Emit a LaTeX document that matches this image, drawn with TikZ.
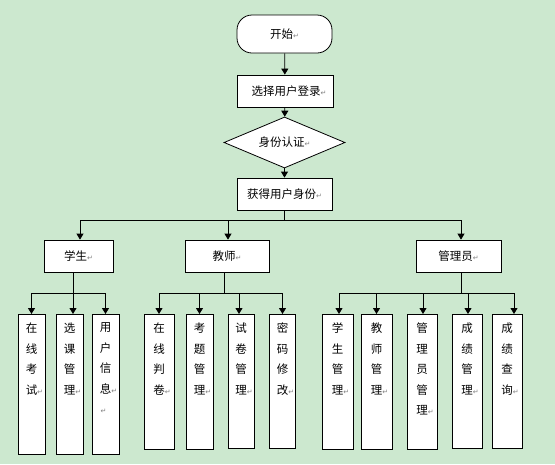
\documentclass[tikz,border=0pt]{standalone}
\usepackage{fontspec}
\setmainfont{Noto Sans CJK SC}
\newfontfamily\retfont{DejaVu Sans}
\usetikzlibrary{arrows.meta,shapes.geometric}
\definecolor{bggreen}{RGB}{204,232,207}
\newcommand{\ret}{{\retfont\color{gray}\fontsize{7}{7}\selectfont ↵}}
% vertical text, top aligned in a column box
\newcommand{\vtxt}[2]{\parbox[c][#1][t]{12pt}{\centering\fontsize{11.5}{20.5}\selectfont\vspace*{8.5pt}#2}}
\tikzset{
  box/.style={draw,line width=0.8pt,fill=white,inner sep=0pt,minimum height=32pt,font=\fontsize{11.5}{13}\selectfont},
  col/.style={draw,line width=0.8pt,fill=white,inner sep=0pt,anchor=north},
  arr/.style={line width=0.8pt,-{Triangle[length=6pt,width=7pt]}},
  ln/.style={line width=0.8pt}
}
\begin{document}
\begin{tikzpicture}[x=1pt,y=-1pt]
  \fill[bggreen] (0,0) rectangle (555,464);
  \useasboundingbox (0,0) rectangle (555,464);
  % main line
  \node[box,rounded corners=15pt,minimum width=95pt,minimum height=38pt] (start) at (284.5,34) {开始\ret};
  \node[box,minimum width=96pt] (login) at (285,91) {\hspace*{8pt}选择用户登录\ret};
  \node[box,diamond,aspect=2.4,minimum width=121pt,minimum height=51pt] (auth) at (284.5,142.5) {身份认证\ret};
  \node[box,minimum width=95pt] (get) at (284.5,194) {获得用户身份\ret};
  \draw[arr] (start) -- (login);
  \draw[arr] (login) -- (auth);
  \draw[arr] (auth) -- (get);
  % roles
  \node[box,minimum width=69pt] (stu) at (78.5,256) {学生\ret};
  \node[box,minimum width=84pt] (tea) at (227,256) {教师\ret};
  \node[box,minimum width=85pt] (adm) at (458.5,256) {管理员\ret};
  \coordinate (j0) at (284.5,220);
  \draw[ln] (get) -- (j0);
  \draw[arr] (j0) -| ([xshift=1.5pt]stu.north);
  \draw[arr] (j0) -| ([xshift=1pt]tea.north);
  \draw[arr] (j0) -| ([xshift=2.5pt]adm.north);
  % student
  \node[col,minimum width=27pt,minimum height=140pt] (s1) at (31.5,314) {\vtxt{140pt}{在\\线\\考\\试\rlap{\ret}}};
  \node[col,minimum width=27pt,minimum height=140pt] (s2) at (69.5,314) {\vtxt{140pt}{选\\课\\管\\理\rlap{\ret}}};
  \node[col,minimum width=27pt,minimum height=140pt] (s3) at (105.5,314) {\vtxt{140pt}{用\\户\\信\\息\rlap{\ret}\\\hspace*{-4pt}\ret}};
  \coordinate (js) at (73,293);
  \draw[ln] (stu.south -| js) -- (js);
  \draw[arr] (js) -| (s1);
  \draw[arr] (js) -- (s2.north -| js);
  \draw[arr] (js) -| (s3);
  % teacher
  \node[col,minimum width=30pt,minimum height=135pt] (t1) at (159,314) {\vtxt{135pt}{在\\线\\判\\卷\rlap{\ret}}};
  \node[col,minimum width=27pt,minimum height=135pt] (t2) at (199.5,314) {\vtxt{135pt}{考\\题\\管\\理\rlap{\ret}}};
  \node[col,minimum width=26pt,minimum height=134pt] (t3) at (241,314) {\vtxt{134pt}{试\\卷\\管\\理\rlap{\ret}}};
  \node[col,minimum width=26pt,minimum height=134pt] (t4) at (282.5,314) {\vtxt{134pt}{密\\码\\修\\改\rlap{\ret}}};
  \coordinate (jt) at (224,293);
  \draw[ln] (tea.south -| jt) -- (jt);
  \draw[arr] (jt) -| (t1);
  \draw[arr] (jt) -| (t2);
  \draw[arr] (jt) -| ([xshift=-2pt]t3.north);
  \draw[arr] (jt) -| (t4);
  % admin
  \node[col,minimum width=31pt,minimum height=135pt] (a1) at (337.5,314) {\vtxt{135pt}{学\\生\\管\\理\rlap{\ret}}};
  \node[col,minimum width=31pt,minimum height=135pt] (a2) at (376.5,314) {\vtxt{135pt}{教\\师\\管\\理\rlap{\ret}}};
  \node[col,minimum width=30pt,minimum height=135pt] (a3) at (422,314) {\vtxt{135pt}{管\\理\\员\\管\\理\rlap{\ret}}};
  \node[col,minimum width=30pt,minimum height=134pt] (a4) at (467,314) {\vtxt{134pt}{成\\绩\\管\\理\rlap{\ret}}};
  \node[col,minimum width=30pt,minimum height=134pt] (a5) at (507,314) {\vtxt{134pt}{成\\绩\\查\\询\rlap{\ret}}};
  \coordinate (ja) at (461,293);
  \draw[ln] (adm.south -| ja) -- (ja);
  \draw[arr] (ja) -| ([xshift=1.5pt]a1.north);
  \draw[arr] (ja) -| (a2);
  \draw[arr] (ja) -| ([xshift=1pt]a3.north);
  \draw[arr] (ja) -| ([xshift=1pt]a4.north);
  \draw[arr] (ja) -| ([xshift=7pt]a5.north);
\end{tikzpicture}
\end{document}
